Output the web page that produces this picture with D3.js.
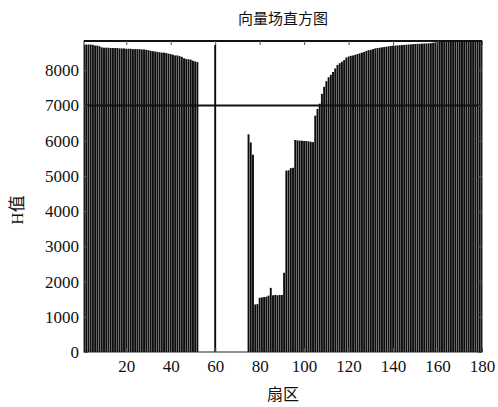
<!DOCTYPE html>
<html lang="zh">
<head>
<meta charset="utf-8">
<title>向量场直方图</title>
<script src="https://cdn.jsdelivr.net/npm/d3@7/dist/d3.min.js"></script>
<style>
  body { margin: 0; background: #fff; }
  text { fill: #111; }
</style>
</head>
<body>
<script>
// sector values (H值), sectors 1..180
var hValues = [
  8720, 8730, 8730, 8730, 8720, 8700, 8700, 8680, 8650, 8640,
  8640, 8640, 8630, 8630, 8630, 8630, 8620, 8620, 8620, 8610,
  8610, 8610, 8600, 8600, 8600, 8600, 8590, 8590, 8580, 8570,
  8550, 8540, 8530, 8520, 8510, 8500, 8500, 8490, 8470, 8460,
  8440, 8420, 8420, 8400, 8380, 8340, 8320, 8310, 8300, 8270,
  8250, 8230, 0, 0, 0, 0, 0, 0, 0, 8720,
  0, 0, 0, 0, 0, 0, 0, 0, 0, 0,
  0, 0, 0, 0, 6180, 5950, 5600, 1350, 1360, 1540,
  1550, 1560, 1570, 1600, 1820, 1610, 1620, 1610, 1620, 1620,
  2250, 5150, 5160, 5220, 5230, 6020, 6010, 6000, 6000, 5990,
  5990, 5980, 5970, 5960, 6710, 6900, 7050, 7330, 7530, 7690,
  7800, 7870, 7950, 8050, 8150, 8200, 8240, 8290, 8360, 8390,
  8410, 8420, 8440, 8460, 8480, 8500, 8520, 8550, 8570, 8580,
  8600, 8620, 8630, 8640, 8650, 8660, 8670, 8680, 8690, 8700,
  8700, 8705, 8710, 8715, 8720, 8725, 8730, 8735, 8740, 8745,
  8750, 8750, 8755, 8760, 8760, 8765, 8770, 8780, 8790, 8820,
  8820, 8820, 8820, 8820, 8820, 8820, 8820, 8820, 8820, 8820,
  8820, 8820, 8820, 8820, 8820, 8820, 8820, 8820, 8820, 8820
];
var xTicks = [20, 40, 60, 80, 100, 120, 140, 160, 180];
var yTicks = [0, 1000, 2000, 3000, 4000, 5000, 6000, 7000, 8000];
var threshold = 7000;

var width = 498, height = 407;
var box = {left: 84, right: 482, top: 41, bottom: 352};

var svg = d3.select("body").append("svg")
    .attr("width", width)
    .attr("height", height);

var x = d3.scaleLinear().domain([1, 180]).range([box.left, box.right]);
var y = d3.scaleLinear().domain([0, 8830]).range([box.bottom, box.top]);

var step = x(2) - x(1);
var barW = step * 0.86;

svg.append("clipPath").attr("id", "plot")
  .append("rect")
    .attr("x", box.left).attr("y", box.top)
    .attr("width", box.right - box.left).attr("height", box.bottom - box.top);

// bars
svg.append("g")
    .attr("clip-path", "url(#plot)")
  .selectAll("rect")
  .data(hValues)
  .enter()
  .append("rect")
    .attr("x", function (d, i) { return x(i + 1) - barW / 2; })
    .attr("y", function (d) { return y(d); })
    .attr("width", barW)
    .attr("height", function (d) { return y(0) - y(d); })
    .attr("fill", "#0d0d0d");

// threshold line
svg.append("line")
    .attr("x1", box.left).attr("x2", box.right)
    .attr("y1", y(threshold)).attr("y2", y(threshold))
    .attr("stroke", "#111")
    .attr("stroke-width", 2);

// frame
svg.append("rect")
    .attr("x", box.left).attr("y", box.top)
    .attr("width", box.right - box.left).attr("height", box.bottom - box.top)
    .attr("fill", "none")
    .attr("stroke", "#222")
    .attr("stroke-width", 1);
svg.append("line")
    .attr("x1", box.left).attr("x2", box.right)
    .attr("y1", box.top).attr("y2", box.top)
    .attr("stroke", "#111").attr("stroke-width", 2.2);

// axes (ticks inward)
var xAxis = d3.axisBottom(x).tickValues(xTicks).tickSize(-4).tickPadding(8);
var yAxis = d3.axisLeft(y).tickValues(yTicks).tickSize(-4).tickPadding(5)
    .tickFormat(d3.format("d"));

svg.append("g")
    .attr("transform", "translate(0," + box.bottom + ")")
    .call(xAxis);
svg.append("g")
    .attr("transform", "translate(" + box.left + ",0)")
    .call(yAxis);

svg.append("g")
    .attr("transform", "translate(0," + box.top + ")")
    .call(d3.axisTop(x).tickValues(xTicks).tickSize(-4).tickFormat(""));
svg.append("g")
    .attr("transform", "translate(" + box.right + ",0)")
    .call(d3.axisRight(y).tickValues(yTicks).tickSize(-4).tickFormat(""));

svg.selectAll(".domain").remove();
svg.selectAll(".tick line").attr("stroke", "#555");
svg.selectAll(".tick text")
    .style("font-family", "'Liberation Serif', 'DejaVu Serif', serif")
    .style("font-size", "17px");

// titles
svg.append("text")
    .attr("x", 283).attr("y", 24)
    .attr("text-anchor", "middle")
    .style("font-family", "'Noto Sans CJK SC', sans-serif")
    .style("font-size", "15px")
    .text("向量场直方图");

svg.append("text")
    .attr("x", 283).attr("y", 400)
    .attr("text-anchor", "middle")
    .style("font-family", "'Noto Sans CJK SC', sans-serif")
    .style("font-size", "16px")
    .text("扇区");

svg.append("text")
    .attr("transform", "translate(23,210) rotate(-90)")
    .attr("text-anchor", "middle")
    .style("font-family", "'Liberation Serif', 'Noto Sans CJK SC', serif")
    .style("font-size", "17px")
    .text("H值");
</script>
</body>
</html>
